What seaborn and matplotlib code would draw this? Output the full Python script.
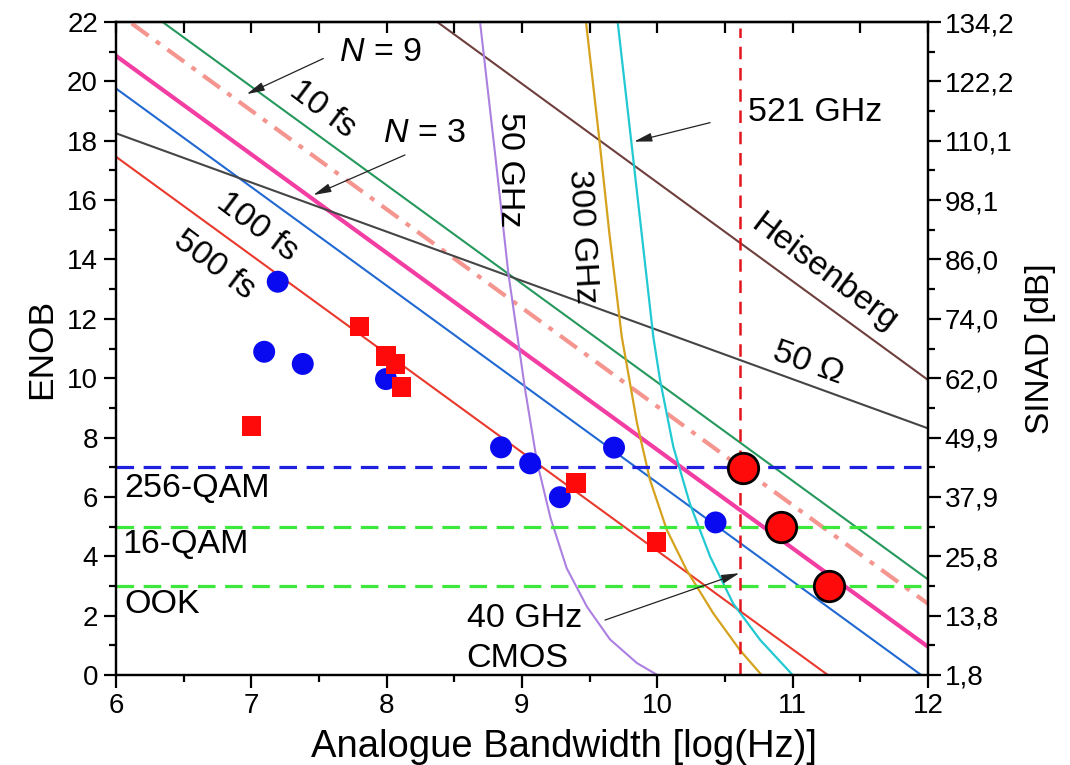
import matplotlib
matplotlib.use('Agg')
import matplotlib.pyplot as plt
import seaborn as sns

# ---------------- data ----------------
# straight theory lines: endpoints (x = log10(Hz), y = ENOB)
jit500_x = [6.0, 11.26];  jit500_y = [17.46, 0.0]
jit100_x = [6.0, 11.95];  jit100_y = [19.76, 0.0]
jit10_x = [6.35, 12.0];   jit10_y = [21.98, 3.22]
n3_x = [6.0, 12.0];       n3_y = [20.86, 0.95]
n9_x = [6.116, 12.0];     n9_y = [21.95, 2.40]
ohm50_x = [6.0, 12.0];    ohm50_y = [18.25, 8.31]
heis_x = [8.38, 12.0];    heis_y = [21.98, 9.94]

# ambiguity curves
ghz50_x = [8.69, 8.80, 8.90, 8.97, 9.02, 9.11, 9.21, 9.33, 9.48, 9.65, 9.85, 10.0]
ghz50_y = [22.0, 17.6, 13.5, 11.3, 9.7, 7.2, 5.3, 3.6, 2.3, 1.2, 0.4, 0.0]
ghz300_x = [9.473, 9.57, 9.645, 9.737, 9.78, 9.85, 9.946, 10.07, 10.216, 10.413, 10.61, 10.77]
ghz300_y = [22.0, 18.1, 14.9, 11.4, 10.3, 8.48, 6.57, 4.89, 3.54, 2.08, 0.84, 0.0]
ghz521_x = [9.707, 9.823, 9.97, 10.02, 10.118, 10.24, 10.39, 10.56, 10.76, 11.0]
ghz521_y = [22.0, 17.35, 11.4, 9.94, 7.69, 5.78, 3.99, 2.41, 1.18, 0.0]

# reference levels
cmos40_x = 10.61
qam256_y = 7.0
qam16_y = 5.0
ook_y = 3.0

# measured ADCs
blue_x = [7.195, 7.095, 7.38, 7.995, 8.845, 9.06, 9.28, 9.68, 10.43]
blue_y = [13.25, 10.89, 10.48, 9.97, 7.67, 7.13, 5.99, 7.66, 5.14]
red_x = [7.0, 7.80, 7.995, 8.065, 8.11, 9.40, 9.995]
red_y = [8.39, 11.74, 10.75, 10.47, 9.71, 6.46, 4.49]
big_x = [10.63, 10.915, 11.265]
big_y = [6.99, 5.0, 3.0]

x_ticks = [6, 7, 8, 9, 10, 11, 12]
y_ticks = [0, 2, 4, 6, 8, 10, 12, 14, 16, 18, 20, 22]
sinad_labels = ['1,8', '13,8', '25,8', '37,9', '49,9', '62,0', '74,0',
                '86,0', '98,1', '110,1', '122,2', '134,2']

# ---------------- style ----------------
sns.set_theme(style='ticks')
plt.rcParams['font.family'] = ['Liberation Sans', 'DejaVu Sans']
plt.rcParams['mathtext.fontset'] = 'custom'
plt.rcParams['mathtext.it'] = 'Liberation Sans:italic'
plt.rcParams['mathtext.rm'] = 'Liberation Sans'
for k in ['text.color', 'axes.labelcolor', 'xtick.color', 'ytick.color',
          'axes.edgecolor']:
    plt.rcParams[k] = 'black'

fig = plt.figure(figsize=(10.7, 7.65), dpi=100)
ax = fig.add_axes([116 / 1070, 1 - 675 / 765, (928 - 116) / 1070, (675 - 22) / 765])

def line(x, y, color, lw, ls='-', z=2):
    sns.lineplot(x=x, y=y, ax=ax, color=color, lw=lw, sort=False,
                 estimator=None, linestyle=ls, zorder=z)

line(jit500_x, jit500_y, '#e8392c', 1.5)
line(jit100_x, jit100_y, '#2169d2', 1.5)
line(jit10_x, jit10_y, '#25995c', 1.5)
line(n3_x, n3_y, '#f23da3', 3.0)
line(n9_x, n9_y, '#f5958f', 3.0, ls=(0, (5, 2.2, 1.2, 2.2)))
line(ohm50_x, ohm50_y, '#454545', 1.5)
line(heis_x, heis_y, '#6e3f3d', 1.5)
line(ghz50_x, ghz50_y, '#ac80e0', 1.5)
line(ghz300_x, ghz300_y, '#d5a21d', 1.6)
line(ghz521_x, ghz521_y, '#22c9d2', 1.6)

line([6, 12], [qam256_y, qam256_y], '#1f1fe0', 2.3, ls=(0, (5.5, 3)))
line([6, 12], [qam16_y, qam16_y], '#3de83d', 2.3, ls=(0, (5.5, 3)))
line([6, 12], [ook_y, ook_y], '#3de83d', 2.3, ls=(0, (5.5, 3)))
line([cmos40_x, cmos40_x], [0, 21.8], '#e3141c', 1.8, ls=(0, (5, 3.5)))

sns.scatterplot(x=blue_x, y=blue_y, ax=ax, marker='o', s=250, color='#0a0af0',
                edgecolor='none', zorder=5)
sns.scatterplot(x=red_x, y=red_y, ax=ax, marker='s', s=200, color='#ff0a0a',
                edgecolor='none', zorder=5)
sns.scatterplot(x=big_x, y=big_y, ax=ax, marker='o', s=480, color='#ff0a0a',
                edgecolor='black', linewidth=2.0, zorder=6)

ax.set_xlim(6, 12)
ax.set_ylim(0, 22)
ax.set_xticks(x_ticks)
ax.set_yticks(y_ticks)
ax.set_xticks([6.5, 7.5, 8.5, 9.5, 10.5, 11.5], minor=True)
ax.set_yticks(list(range(1, 22, 2)), minor=True)
for s in ax.spines.values():
    s.set_linewidth(1.6)
    s.set_color('black')
ax.tick_params(which='major', direction='out', length=9, width=1.6,
               labelsize=20, pad=4, color='black')
ax.tick_params(which='minor', direction='out', length=5, width=1.6, color='black')
ax.tick_params(axis='y', right=False)

top = ax.secondary_xaxis('top')
top.set_xticks(x_ticks)
top.set_xticks([6.5, 7.5, 8.5, 9.5, 10.5, 11.5], minor=True)
top.tick_params(which='both', direction='in', length=8, width=1.6, labeltop=False)
top.spines['top'].set_linewidth(1.6)

ax2 = ax.twinx()
ax2.set_ylim(0, 22)
ax2.set_yticks(y_ticks)
ax2.set_yticklabels(sinad_labels)
ax2.set_yticks(list(range(1, 22, 2)), minor=True)
ax2.tick_params(which='major', direction='out', length=9, width=1.6, labelsize=20, pad=3)
ax2.tick_params(which='minor', direction='out', length=5, width=1.6)
for s in ax2.spines.values():
    s.set_linewidth(1.6)

ax.set_xlabel('Analogue Bandwidth [log(Hz)]', fontsize=27.5)
ax.xaxis.set_label_coords(0.552, -0.083)
ax.set_ylabel('ENOB', fontsize=25.5, labelpad=6)
ax2.set_ylabel('SINAD [dB]', fontsize=24, labelpad=8)

fs = 24.5
ax.text(7.95, 20.97, '$N$ = 9', fontsize=fs, ha='center', va='center')
ax.text(8.276, 18.23, '$N$ = 3', fontsize=fs, ha='center', va='center')
ax.text(7.53, 19.04, '10 fs', fontsize=fs, ha='center', va='center', rotation=-37)
ax.text(7.04, 15.1, '100 fs', fontsize=fs, ha='center', va='center', rotation=-37)
ax.text(6.724, 13.81, '500 fs', fontsize=fs, ha='center', va='center', rotation=-37)
ax.text(8.91, 17.04, '50 GHz', fontsize=fs, ha='center', va='center', rotation=-90)
ax.text(9.44, 14.77, '300 GHz', fontsize=fs, ha='center', va='center', rotation=-87)
ax.text(10.67, 18.96, '521 GHz', fontsize=fs, ha='left', va='center')
ax.text(11.23, 13.53, 'Heisenberg', fontsize=fs, ha='center', va='center', rotation=-37)
ax.text(11.116, 10.5, '50 Ω', fontsize=fs, ha='center', va='center', rotation=-20)
ax.text(6.06, 6.29, '256-QAM', fontsize=fs, ha='left', va='center')
ax.text(6.05, 4.38, '16-QAM', fontsize=fs, ha='left', va='center')
ax.text(6.06, 2.39, 'OOK', fontsize=fs, ha='left', va='center')
ax.text(8.59, 1.91, '40 GHz', fontsize=fs, ha='left', va='center')
ax.text(8.59, 0.56, 'CMOS', fontsize=fs, ha='left', va='center')

arrow = dict(arrowstyle='-|>,head_length=0.9,head_width=0.22', lw=0.9,
             color='#222222', shrinkA=0, shrinkB=0)
ax.annotate('', xy=(6.966, 19.57), xytext=(7.532, 20.77), arrowprops=arrow, zorder=7)
ax.annotate('', xy=(7.458, 16.17), xytext=(8.135, 17.52), arrowprops=arrow, zorder=7)
ax.annotate('', xy=(9.828, 17.97), xytext=(10.39, 18.61), arrowprops=arrow, zorder=7)
ax.annotate('', xy=(10.606, 3.43), xytext=(9.613, 1.85), arrowprops=arrow, zorder=7)

fig.savefig('out.png', dpi=100)
